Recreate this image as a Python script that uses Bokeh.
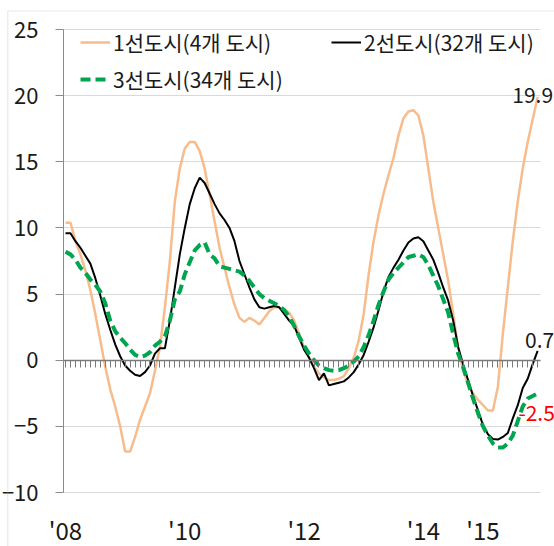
from bokeh.plotting import figure
from bokeh.models import (Range1d, FixedTicker, Label, Legend, LegendItem, LinearAxis,
                          BoxAnnotation)
from bokeh.embed import file_html
from bokeh.resources import INLINE

# Monthly YoY change (%), Jan 2008 .. Dec 2015
tier1 = [10.4, 10.4, 9.0, 8.0, 6.8, 5.3, 3.5, 1.5, -0.5, -2.2, -3.5, -5.0,
         -6.9, -6.9, -5.8, -4.5, -3.5, -2.5, -0.8, 1.0, 4.0, 7.5, 12.0, 14.5,
         16.0, 16.5, 16.5, 15.8, 14.5, 12.5, 10.5, 8.5, 7.0, 5.5, 4.2, 3.2,
         2.9, 3.2, 3.0, 2.7, 3.2, 3.7, 4.0, 4.0, 3.8, 3.6, 3.0, 2.0,
         1.0, 0.2, -0.5, -1.0, -1.3, -1.5, -1.5, -1.4, -1.2, -0.6, 0.2, 1.5,
         3.5, 6.5, 9.0, 11.0, 12.6, 14.0, 15.3, 17.0, 18.3, 18.8, 18.9, 18.5,
         17.0, 14.5, 12.0, 10.0, 8.0, 6.0, 3.5, 1.0, -0.8, -1.8, -2.5, -3.0,
         -3.4, -3.8, -3.8, -2.0, 2.0, 5.5, 9.0, 12.0, 14.5, 16.5, 18.2, 19.9]

tier2 = [9.6, 9.6, 9.0, 8.5, 7.9, 7.3, 6.2, 4.9, 3.5, 2.3, 1.2, 0.3,
         -0.4, -0.8, -1.1, -1.2, -0.9, -0.4, 0.5, 0.9, 0.9, 3.0, 5.5, 8.0,
         10.0, 11.8, 13.0, 13.8, 13.4, 12.6, 11.8, 11.1, 10.6, 10.0, 9.0, 7.5,
         6.5, 5.5, 4.6, 4.0, 3.9, 4.0, 4.1, 4.0, 3.5, 3.0, 2.6, 1.7,
         0.8, 0.2, -0.6, -1.5, -1.0, -1.9, -1.8, -1.7, -1.6, -1.3, -0.9, -0.3,
         0.4, 1.4, 2.5, 3.8, 5.2, 6.3, 7.0, 7.6, 8.3, 8.9, 9.2, 9.3,
         9.0, 8.3, 7.6, 6.6, 5.5, 4.5, 3.0, 1.0, -0.3, -1.5, -2.7, -3.8,
         -4.9, -5.6, -5.95, -6.0, -5.8, -5.5, -4.4, -3.4, -2.1, -1.4, -0.3, 0.7]

tier3 = [8.2, 8.0, 7.6, 7.0, 6.6, 6.1, 5.7, 5.2, 4.3, 3.0, 2.2, 1.7,
         1.3, 0.8, 0.4, 0.25, 0.35, 0.6, 1.1, 1.4, 1.8, 3.0, 4.6, 5.2,
         6.5, 7.4, 8.3, 8.7, 8.9, 8.0, 7.7, 7.1, 7.0, 6.9, 6.8, 6.7,
         6.4, 6.0, 5.5, 5.0, 4.7, 4.5, 4.3, 4.1, 3.8, 3.3, 2.6, 1.8,
         1.1, 0.5, 0.0, -0.4, -0.6, -0.75, -0.8, -0.75, -0.6, -0.4, -0.1, 0.3,
         1.0, 1.9, 3.0, 4.2, 5.2, 6.1, 6.6, 7.0, 7.4, 7.8, 7.9, 8.0,
         7.8, 7.2, 6.4, 5.6, 4.6, 3.6, 2.0, 0.5, -0.5, -1.7, -2.9, -4.0,
         -5.0, -5.7, -6.3, -6.6, -6.6, -6.3, -5.7, -4.6, -3.5, -2.9, -2.7, -2.5]

months = list(range(len(tier1)))
year_tick_months = [0, 24, 48, 72, 84]
year_tick_labels = ["'08", "'10", "'12", "'14", "'15"]
y_ticks = [-10, -5, 0, 5, 10, 15, 20, 25]
series_names = ["1선도시(4개 도시)", "2선도시(32개 도시)", "3선도시(34개 도시)"]
series_colors = ["#F8BC8C", "#000000", "#00A550"]

# ---- layout: the plotting area covers the whole canvas --------------------
W, H = 554, 546
PX_PER_MONTH = 4.97
PX_PER_UNIT = 13.2286
MONTH0_PX, TOP_TICK_PX = 65, 29
X_START = -MONTH0_PX / PX_PER_MONTH
X_END = X_START + W / PX_PER_MONTH
Y_END = 25 + TOP_TICK_PX / PX_PER_UNIT
Y_START = Y_END - H / PX_PER_UNIT
X_AXIS_POS = -0.4          # where the value axis sits
X_GRID_END = 95.6          # right end of grid / zero line
Y_AXIS_BOTTOM, Y_AXIS_TOP = -10, 25
X_BORDER = X_START + 7.3 / PX_PER_MONTH
Y_BORDER = Y_END - 10.5 / PX_PER_UNIT

FONT = "'Noto Sans CJK KR', sans-serif"

p = figure(width=W, height=H, output_backend="svg", toolbar_location=None,
           x_range=Range1d(X_START, X_END), y_range=Range1d(Y_START, Y_END),
           x_axis_type=None,
           min_border_left=0, min_border_right=0, min_border_top=0, min_border_bottom=0,
           background_fill_color="white", border_fill_color="white",
           outline_line_color=None)

# outer chart border (top and left edges visible)
p.add_layout(BoxAnnotation(left=X_BORDER, top=Y_BORDER, right=X_END + 5, bottom=Y_START - 5,
                           fill_color=None, line_color="#b4b4b4", line_width=1.2))

# y axis
p.yaxis.fixed_location = X_AXIS_POS
p.yaxis.ticker = FixedTicker(ticks=y_ticks)
p.yaxis.bounds = (Y_AXIS_BOTTOM, Y_AXIS_TOP)
p.yaxis.axis_line_color = "#8c8c8c"
p.yaxis.major_tick_line_color = "#8c8c8c"
p.yaxis.major_tick_out = 8
p.yaxis.major_tick_in = 0
p.yaxis.minor_tick_line_color = None
p.yaxis.minor_tick_out = 0
p.yaxis.major_label_standoff = 17
p.yaxis.major_label_text_font = FONT
p.yaxis.major_label_text_font_size = "22px"
p.yaxis.major_label_text_color = "#1a1a1a"

p.ygrid.grid_line_color = "#d9d9d9"
p.ygrid.grid_line_width = 1
try:
    p.ygrid.cross_bounds = (X_AXIS_POS, X_GRID_END)
except Exception:
    p.ygrid.visible = False
    p.segment(x0=[X_AXIS_POS] * len(y_ticks), x1=[X_GRID_END] * len(y_ticks),
              y0=y_ticks, y1=y_ticks, line_color="#d9d9d9", line_width=1)

# year labels below the bottom grid line
year_axis = LinearAxis(fixed_location=Y_AXIS_BOTTOM, ticker=FixedTicker(ticks=year_tick_months),
                       major_label_overrides=dict(zip(year_tick_months, year_tick_labels)),
                       axis_line_color=None, major_tick_line_color=None,
                       minor_tick_line_color=None, major_tick_out=0, minor_tick_out=0,
                       major_label_standoff=19,
                       major_label_text_font=FONT, major_label_text_font_size="24px",
                       major_label_text_color="#1a1a1a")
p.add_layout(year_axis, "below")

# zero line with monthly ticks
zero_axis = LinearAxis(fixed_location=0, ticker=FixedTicker(ticks=months),
                       bounds=(X_AXIS_POS, X_GRID_END),
                       axis_line_color="#7a7a7a", axis_line_width=1.5,
                       major_tick_line_color="#7a7a7a", major_tick_out=7, major_tick_in=0,
                       minor_tick_line_color=None, minor_tick_out=0,
                       major_label_text_color=None,
                       major_label_overrides={m: "" for m in months})
p.add_layout(zero_axis, "below")

r1 = p.line(months, tier1, line_color=series_colors[0], line_width=2.5)
r2 = p.line(months, tier2, line_color=series_colors[1], line_width=2)
r3 = p.line(months, tier3, line_color=series_colors[2], line_width=4, line_dash="10 5")

legend = Legend(items=[LegendItem(label=series_names[0], renderers=[r1]),
                       LegendItem(label=series_names[1], renderers=[r2]),
                       LegendItem(label=series_names[2], renderers=[r3])],
                orientation="horizontal", ncols=2,
                location=(80, 452), padding=0, margin=0, spacing=7,
                glyph_width=30, glyph_height=22, label_height=22, label_standoff=3,
                label_width=211,
                label_text_font=FONT, label_text_font_size="21px",
                label_text_color="#1a1a1a",
                border_line_color=None, background_fill_alpha=0)
p.add_layout(legend, "center")

last = months[-1]
p.add_layout(Label(x=last, y=tier1[-1], text=f"{tier1[-1]:.1f}", text_align="center",
                   text_baseline="middle", x_offset=-5, y_offset=2,
                   text_font=FONT, text_font_size="21px", text_color="#1a1a1a"))
p.add_layout(Label(x=last, y=tier2[-1], text=f"{tier2[-1]:.1f}", text_align="center",
                   text_baseline="middle", x_offset=2, y_offset=11,
                   text_font=FONT, text_font_size="21px", text_color="#1a1a1a"))
p.add_layout(Label(x=last, y=tier3[-1], text=f"{tier3[-1]:.1f}", text_align="center",
                   text_baseline="middle", x_offset=-1, y_offset=-20,
                   text_font=FONT, text_font_size="21px", text_color="#FF0000"))

open("out.html", "w").write(file_html(p, INLINE))
